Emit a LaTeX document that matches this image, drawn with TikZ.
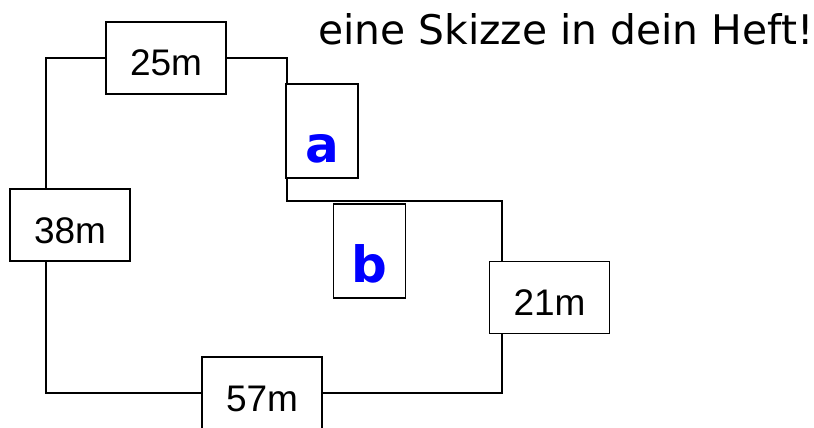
\documentclass[tikz,border=0pt]{standalone}
\usepackage{fontspec}
\usetikzlibrary{backgrounds}
\newfontfamily\lenfont{Liberation Sans}
\newfontfamily\handfont{DejaVu Sans}
\definecolor{varblue}{RGB}{0,0,255}
\begin{document}
\begin{tikzpicture}[x=1pt, y=-1pt,
		wall/.style={draw, line width=1.4pt},
		lenbox/.style={draw, line width=1.4pt, fill=white, rectangle, minimum width=120pt, minimum height=72pt, inner sep=0pt, text height=36pt, text depth=0pt, font=\lenfont\fontsize{37}{40}\selectfont},
		varbox/.style={draw, line width=1.4pt, fill=white, rectangle, minimum width=72pt, minimum height=94pt, inner sep=0pt, text height=63pt, text depth=0pt, text=varblue, font=\handfont\bfseries\fontsize{50}{54}\selectfont} ]
		\useasboundingbox (0,0) rectangle (814,428);
		\node[anchor=base west, inner sep=0pt, font=\handfont\fontsize{40.8}{44}\selectfont] (title) at (318,45) {eine Skizze in dein Heft!};

		\node[lenbox] (len25) at (166,58) {25m};
		\node[lenbox] (len38) at (70,225) {38m};
		\node[lenbox] (len21) at (549.5,297.5) {21m};
		\node[lenbox] (len57) at (262,393) {57m};
		\node[varbox] (vara) at (322,131) {a};
		\node[varbox] (varb) at (369.5,251) {b};

		\coordinate (nw) at (46,58);
		\coordinate (ne) at (287,58);
		\coordinate (mid) at (287,201);
		\coordinate (me) at (502,201);
		\coordinate (se) at (502,393);
		\coordinate (sw) at (46,393);
		\begin{scope}[on background layer]
			\draw[wall] (len25) -- (nw) -- (sw) -- (len57);
			\draw[wall] (len57) -- (se) -- (me) -- (mid) -- (ne) -- (len25);
		\end{scope}
	\end{tikzpicture}
\end{document}
